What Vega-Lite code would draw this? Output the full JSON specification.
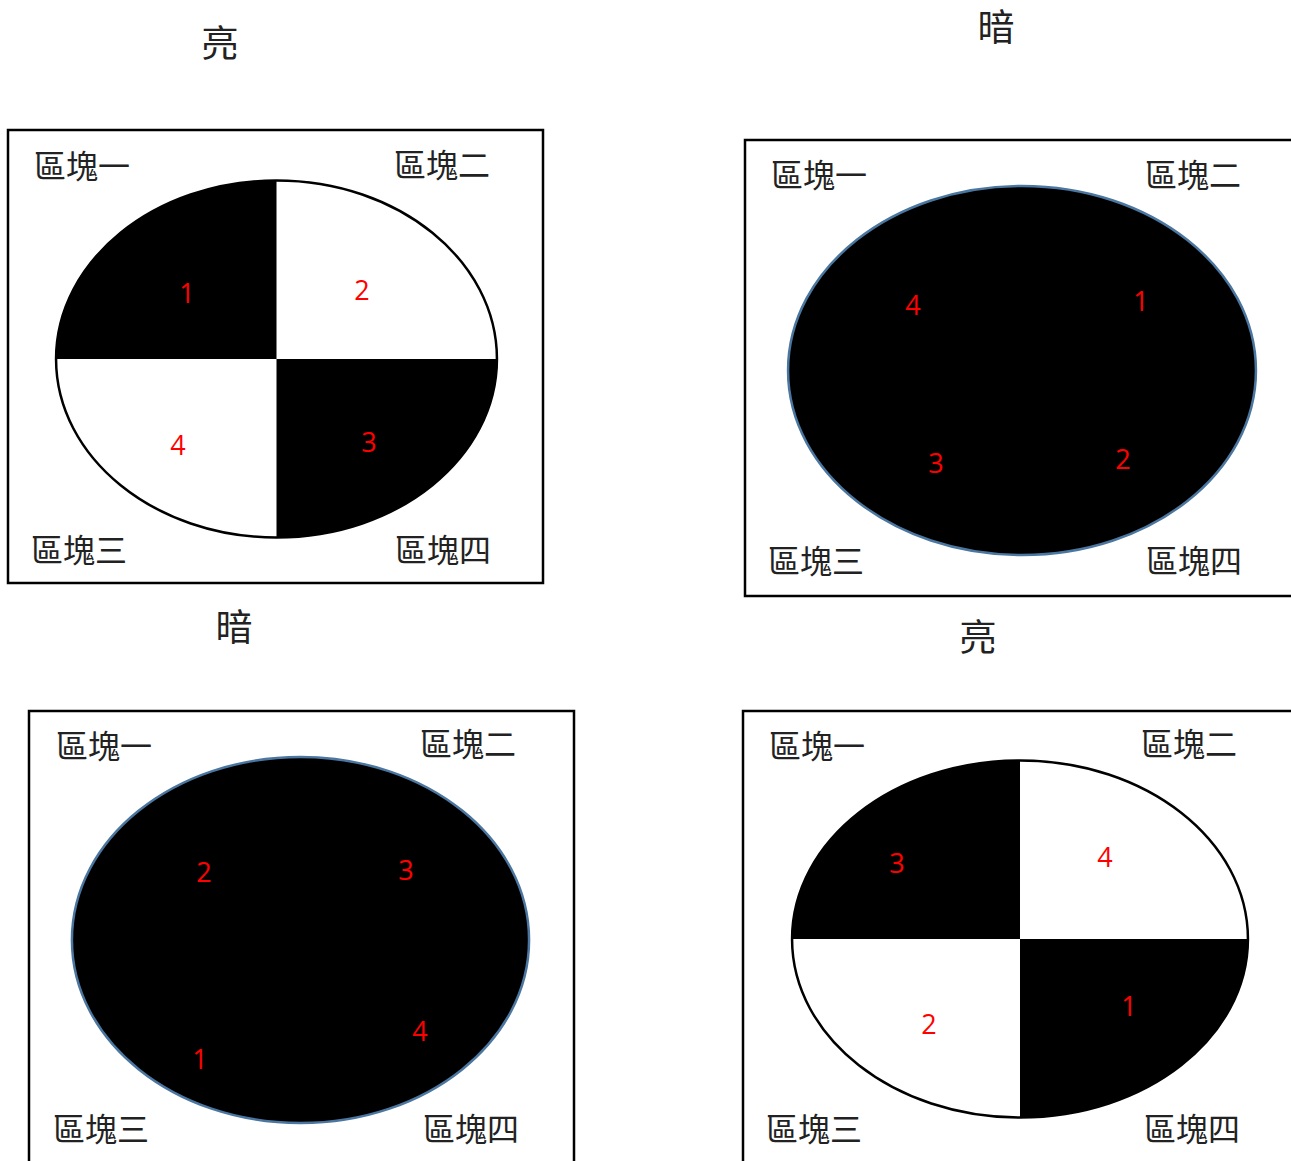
{
  "$schema": "https://vega.github.io/schema/vega-lite/v6.json",
  "width": 1291,
  "height": 1161,
  "padding": 0,
  "autosize": {"type": "none"},
  "background": "white",
  "config": {"view": {"stroke": null}},
  "layer": [
    {
      "data": {"values": [
        {"panel": 1, "x": 8, "x2": 543, "y": 130, "y2": 583},
        {"panel": 2, "x": 745, "x2": 1294, "y": 140, "y2": 596},
        {"panel": 3, "x": 29, "x2": 574, "y": 711, "y2": 1166},
        {"panel": 4, "x": 743, "x2": 1294, "y": 711, "y2": 1166}
      ]},
      "mark": {"type": "rect", "fill": null, "fillOpacity": 0, "stroke": "black", "strokeWidth": 2.5},
      "encoding": {
        "x": {"field": "x", "type": "quantitative", "scale": {"domain": [0, 1291], "nice": false, "zero": false}, "axis": null},
        "x2": {"field": "x2"},
        "y": {"field": "y", "type": "quantitative", "scale": {"domain": [0, 1161], "nice": false, "zero": false, "reverse": true}, "axis": null},
        "y2": {"field": "y2"}
      }
    },
    {
      "data": {"values": [{"panel": 1, "x": 276.5, "y": 359}]},
      "mark": {"type": "point", "shape": "M-1.235,0 A1.235,1 0 1,0 1.235,0 A1.235,1 0 1,0 -1.235,0 Z", "size": 127449, "filled": true, "fill": "white", "stroke": "black", "strokeWidth": 2.5, "opacity": 1},
      "encoding": {
        "x": {"field": "x", "type": "quantitative", "axis": null},
        "y": {"field": "y", "type": "quantitative", "axis": null}
      }
    },
    {
      "data": {"values": [{"panel": 1, "x": 276.5, "y": 359}]},
      "mark": {"type": "point", "shape": "M0,0 L-1.235,0 A1.235,1 0 0,1 0,-1 Z M0,0 L1.235,0 A1.235,1 0 0,1 0,1 Z", "size": 127449, "filled": true, "fill": "black", "strokeWidth": 0, "opacity": 1},
      "encoding": {
        "x": {"field": "x", "type": "quantitative", "axis": null},
        "y": {"field": "y", "type": "quantitative", "axis": null}
      }
    },
    {
      "data": {"values": [{"panel": 2, "x": 1022, "y": 370.5}]},
      "mark": {"type": "point", "shape": "M-1.268,0 A1.268,1 0 1,0 1.268,0 A1.268,1 0 1,0 -1.268,0 Z", "size": 136161, "filled": true, "fill": "black", "stroke": "#4A76A0", "strokeWidth": 2.5, "opacity": 1},
      "encoding": {
        "x": {"field": "x", "type": "quantitative", "axis": null},
        "y": {"field": "y", "type": "quantitative", "axis": null}
      }
    },
    {
      "data": {"values": [{"panel": 3, "x": 300.5, "y": 940}]},
      "mark": {"type": "point", "shape": "M-1.249,0 A1.249,1 0 1,0 1.249,0 A1.249,1 0 1,0 -1.249,0 Z", "size": 133956, "filled": true, "fill": "black", "stroke": "#4A76A0", "strokeWidth": 2.5, "opacity": 1},
      "encoding": {
        "x": {"field": "x", "type": "quantitative", "axis": null},
        "y": {"field": "y", "type": "quantitative", "axis": null}
      }
    },
    {
      "data": {"values": [{"panel": 4, "x": 1020, "y": 939}]},
      "mark": {"type": "point", "shape": "M-1.277,0 A1.277,1 0 1,0 1.277,0 A1.277,1 0 1,0 -1.277,0 Z", "size": 127449, "filled": true, "fill": "white", "stroke": "black", "strokeWidth": 2.5, "opacity": 1},
      "encoding": {
        "x": {"field": "x", "type": "quantitative", "axis": null},
        "y": {"field": "y", "type": "quantitative", "axis": null}
      }
    },
    {
      "data": {"values": [{"panel": 4, "x": 1020, "y": 939}]},
      "mark": {"type": "point", "shape": "M0,0 L-1.277,0 A1.277,1 0 0,1 0,-1 Z M0,0 L1.277,0 A1.277,1 0 0,1 0,1 Z", "size": 127449, "filled": true, "fill": "black", "strokeWidth": 0, "opacity": 1},
      "encoding": {
        "x": {"field": "x", "type": "quantitative", "axis": null},
        "y": {"field": "y", "type": "quantitative", "axis": null}
      }
    },
    {
      "data": {"values": [
        {"text": "區塊一", "x": 34, "y": 168},
        {"text": "區塊二", "x": 394, "y": 167},
        {"text": "區塊三", "x": 31, "y": 552},
        {"text": "區塊四", "x": 395, "y": 552},
        {"text": "區塊一", "x": 771, "y": 177},
        {"text": "區塊二", "x": 1145, "y": 177},
        {"text": "區塊三", "x": 768, "y": 563},
        {"text": "區塊四", "x": 1146, "y": 563},
        {"text": "區塊一", "x": 56, "y": 748},
        {"text": "區塊二", "x": 420, "y": 746},
        {"text": "區塊三", "x": 53, "y": 1131},
        {"text": "區塊四", "x": 423, "y": 1131},
        {"text": "區塊一", "x": 769, "y": 748},
        {"text": "區塊二", "x": 1141, "y": 746},
        {"text": "區塊三", "x": 766, "y": 1131},
        {"text": "區塊四", "x": 1144, "y": 1131}
      ]},
      "mark": {"type": "text", "align": "left", "baseline": "middle", "font": "Noto Sans CJK TC", "fontSize": 32, "color": "#222222"},
      "encoding": {
        "x": {"field": "x", "type": "quantitative", "axis": null},
        "y": {"field": "y", "type": "quantitative", "axis": null},
        "text": {"field": "text"}
      }
    },
    {
      "data": {"values": [
        {"text": "亮", "x": 220, "y": 46},
        {"text": "暗", "x": 996, "y": 30},
        {"text": "暗", "x": 234, "y": 630},
        {"text": "亮", "x": 978, "y": 640}
      ]},
      "mark": {"type": "text", "align": "center", "baseline": "middle", "font": "Noto Sans CJK TC", "fontSize": 37, "color": "#222222"},
      "encoding": {
        "x": {"field": "x", "type": "quantitative", "axis": null},
        "y": {"field": "y", "type": "quantitative", "axis": null},
        "text": {"field": "text"}
      }
    },
    {
      "data": {"values": [
        {"text": "1", "x": 187, "y": 295},
        {"text": "2", "x": 362, "y": 292},
        {"text": "4", "x": 178, "y": 447},
        {"text": "3", "x": 369, "y": 444},
        {"text": "4", "x": 913, "y": 307},
        {"text": "1", "x": 1141, "y": 303},
        {"text": "3", "x": 936, "y": 465},
        {"text": "2", "x": 1123, "y": 461},
        {"text": "2", "x": 204, "y": 874},
        {"text": "3", "x": 406, "y": 872},
        {"text": "1", "x": 200, "y": 1061},
        {"text": "4", "x": 420, "y": 1033},
        {"text": "3", "x": 897, "y": 865},
        {"text": "4", "x": 1105, "y": 859},
        {"text": "2", "x": 929, "y": 1026},
        {"text": "1", "x": 1129, "y": 1008}
      ]},
      "mark": {"type": "text", "align": "center", "baseline": "middle", "font": "Open Sans", "fontSize": 27, "color": "#FF0000"},
      "encoding": {
        "x": {"field": "x", "type": "quantitative", "axis": null},
        "y": {"field": "y", "type": "quantitative", "axis": null},
        "text": {"field": "text"}
      }
    }
  ]
}
